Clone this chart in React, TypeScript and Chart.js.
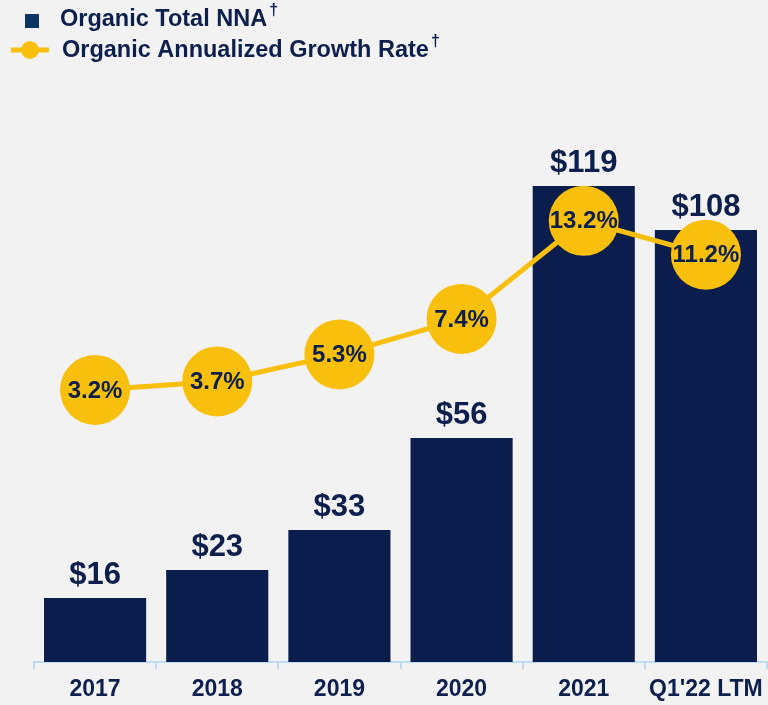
import React, { useEffect, useRef } from "react";
import { Chart, registerables } from "chart.js";

Chart.register(...registerables);

const categories = ["2017", "2018", "2019", "2020", "2021", "Q1'22 LTM"];
const nnaValues = [16, 23, 33, 56, 119, 108];
const growthRates = [3.2, 3.7, 5.3, 7.4, 13.2, 11.2];
const seriesNames = ["Organic Total NNA", "Organic Annualized Growth Rate"];

const NAVY = "#0b1d4c";
const TEXT = "#0c1f4d";
const GOLD = "#f8bf0c";
const BG = "#f2f2f2";
const AXIS = "#bcdcf4";
const FONT = "'Liberation Sans', Arial, sans-serif";

const bgPlugin = {
  id: "bg",
  beforeDraw(chart: any) {
    const { ctx, width, height } = chart;
    ctx.save();
    ctx.fillStyle = BG;
    ctx.fillRect(0, 0, width, height);
    ctx.restore();
  },
};

const labelPlugin = {
  id: "labels",
  afterDatasetsDraw(chart: any) {
    const { ctx } = chart;
    ctx.save();
    ctx.fillStyle = TEXT;
    ctx.textAlign = "center";
    const barMeta = chart.getDatasetMeta(0);
    ctx.font = `bold 31px ${FONT}`;
    ctx.textBaseline = "alphabetic";
    barMeta.data.forEach((el: any, i: number) => {
      ctx.fillText("$" + nnaValues[i], el.x, el.y - 14);
    });
    const lineMeta = chart.getDatasetMeta(1);
    ctx.font = `bold 24px ${FONT}`;
    ctx.textBaseline = "middle";
    lineMeta.data.forEach((el: any, i: number) => {
      ctx.fillText(growthRates[i].toFixed(1) + "%", el.x, el.y + 1);
    });
    ctx.restore();
  },
};

const legendPlugin = {
  id: "customLegend",
  afterDraw(chart: any) {
    const { ctx } = chart;
    ctx.save();
    ctx.textBaseline = "middle";
    ctx.textAlign = "left";
    ctx.fillStyle = "#0b3463";
    ctx.fillRect(25, 14, 14, 14);
    ctx.fillStyle = TEXT;
    ctx.font = `bold 23.5px ${FONT}`;
    ctx.fillText(seriesNames[0], 60, 20);
    let w = ctx.measureText(seriesNames[0]).width;
    ctx.font = `bold 16px ${FONT}`;
    ctx.fillText("†", 60 + w + 2, 11);
    ctx.strokeStyle = GOLD;
    ctx.lineWidth = 5;
    ctx.beginPath();
    ctx.moveTo(11, 50);
    ctx.lineTo(49, 50);
    ctx.stroke();
    ctx.fillStyle = GOLD;
    ctx.beginPath();
    ctx.arc(30, 50, 9, 0, Math.PI * 2);
    ctx.fill();
    ctx.fillStyle = TEXT;
    ctx.font = `bold 23.5px ${FONT}`;
    ctx.fillText(seriesNames[1], 62, 51);
    w = ctx.measureText(seriesNames[1]).width;
    ctx.font = `bold 16px ${FONT}`;
    ctx.fillText("†", 62 + w + 2, 42);
    ctx.restore();
  },
};

export default function App() {
  const ref = useRef<HTMLCanvasElement>(null);

  useEffect(() => {
    document.body.style.margin = "0";
    document.body.style.background = BG;
    const chart = new Chart(ref.current as HTMLCanvasElement, {
      type: "bar",
      data: {
        labels: categories,
        datasets: [
          {
            type: "bar",
            label: seriesNames[0],
            data: nnaValues,
            backgroundColor: NAVY,
            categoryPercentage: 1,
            barPercentage: 0.836,
            yAxisID: "y",
            order: 2,
          },
          {
            type: "line",
            label: seriesNames[1],
            data: growthRates,
            borderColor: GOLD,
            borderWidth: 5,
            backgroundColor: GOLD,
            pointRadius: 35,
            pointHoverRadius: 35,
            pointBackgroundColor: GOLD,
            pointBorderWidth: 0,
            yAxisID: "y2",
            order: 1,
          },
        ] as any,
      },
      options: {
        responsive: false,
        animation: false,
        layout: { autoPadding: false, padding: { left: 34, right: 1, top: 62, bottom: 0 } },
        plugins: {
          legend: { display: false },
          tooltip: { enabled: false },
        },
        scales: {
          x: {
            offset: true,
            afterFit: (s: any) => {
              s.paddingLeft = 0;
              s.paddingRight = 0;
              s.height = 43;
            },
            grid: {
              display: true,
              drawOnChartArea: false,
              drawTicks: true,
              tickLength: 7,
              color: AXIS,
              lineWidth: 2,
              offset: true,
            },
            border: { display: true, color: AXIS, width: 2 },
            ticks: {
              color: TEXT,
              font: { family: FONT, size: 23, weight: "bold" },
              padding: 7,
              maxRotation: 0,
              autoSkip: false,
            },
          },
          y: { display: false, min: 0, max: 150 },
          y2: { display: false, min: -12.9, max: 22.6, position: "right" },
        },
      } as any,
      plugins: [bgPlugin, labelPlugin, legendPlugin],
    });
    return () => chart.destroy();
  }, []);

  return (
    <div style={{ width: 768, height: 705, background: BG }}>
      <canvas ref={ref} width={768} height={705} />
    </div>
  );
}
